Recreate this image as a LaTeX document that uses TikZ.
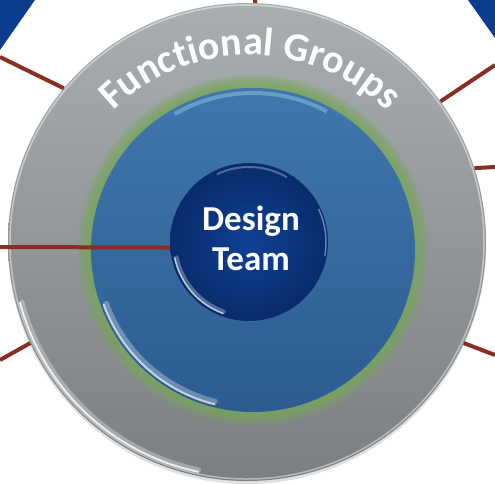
\documentclass[tikz,border=0pt]{standalone}
\usepackage{fontspec}
\setmainfont{Carlito}
\usepackage{tikz}
\usetikzlibrary{decorations.text}
\definecolor{wedgeblue}{HTML}{0C3C8C}
\definecolor{spokered}{HTML}{8B2D22}
\definecolor{graytop}{HTML}{A9AEB0}
\definecolor{graybot}{HTML}{7C7F82}
\definecolor{ringgreen}{HTML}{78A85A}
\definecolor{coretop}{HTML}{4077AD}
\definecolor{corebot}{HTML}{2C5C91}
\definecolor{teamin}{HTML}{0F4194}
\definecolor{teamout}{HTML}{082C6C}

\begin{document}
\begin{tikzpicture}[x=1pt, y=1pt,
  spoke/.style = {draw=spokered, line width=4pt},
  disc/.style = {circle, inner sep=0pt, draw=none},
  shine/.style = {white, line cap=round}]
  \useasboundingbox (0,0) rectangle (495,-483);

  % corner wedges
  \fill[wedgeblue] (0,0) -- (35,0) -- (0,-50) -- cycle;
  \fill[wedgeblue] (468,0) -- (495,0) -- (495,-38) -- cycle;

  % functional groups ring
  \fill[black, opacity=.12] (247,-245) circle (239);
  \node[disc, minimum size=478pt, top color=graytop, bottom color=graybot] (groups) at (247,-242) {};
  \draw[white, opacity=.45, line width=1.5pt] (groups.center) circle (237);
  \draw[shine, opacity=.3, line width=5pt] ([shift={(195:233)}]groups.center) arc (195:258:233);
  \draw[shine, opacity=.8, line width=2pt] ([shift={(195:235)}]groups.center) arc (195:258:235);

  % spokes
  \coordinate (sTop) at (255,0);
  \coordinate (sUL) at (0,-57);
  \coordinate (sUR) at (495,-65);
  \coordinate (sR) at (495,-167);
  \coordinate (sLR) at (495,-355);
  \coordinate (sLL) at (0,-360);
  \coordinate (sL) at (0,-247);
  \draw[spoke] (sTop) -- (groups.88);
  \draw[spoke] (sUL) -- (groups.140);
  \draw[spoke] (sUR) -- (groups.36);
  \draw[spoke] (sR) -- (groups.18);
  \draw[spoke] (sLR) -- (groups.-25);
  \draw[spoke] (sLL) -- (groups.205);

  % green glow and blue core
  \coordinate (corec) at (253,-250);
  \foreach \r in {175,173,...,163}
    \fill[ringgreen, opacity=.22] (corec) circle (\r);
  \node[disc, minimum size=324pt, top color=coretop, bottom color=corebot] (core) at (corec) {};
  \draw[shine, opacity=.3, line width=5pt] ([shift={(200:156)}]corec) arc (200:256:156);
  \draw[shine, opacity=.7, line width=2pt] ([shift={(200:159)}]corec) arc (200:256:159);
  \draw[cyan!30, opacity=.35, line width=4pt] ([shift={(62:157)}]corec) arc (62:120:157);

  \path[decorate, decoration={text along path, text align=center, text color=white,
    text={|\fontsize{40}{40}\bfseries\selectfont|Functional Groups}}]
    ([shift={(140:195)}]250,-250) arc (140:40:195);

  % design team
  \node[disc, minimum size=158pt, inner color=teamin, outer color=teamout] (design) at (249,-242) {};
  \draw[spoke] (sL) -- (design.184);
  \draw[shine, opacity=.3, line width=4pt] ([shift={(192:74)}]design.center) arc (192:250:74);
  \draw[shine, opacity=.7, line width=1.5pt] ([shift={(192:76)}]design.center) arc (192:250:76);
  \draw[shine, opacity=.3, line width=2pt] ([shift={(60:75)}]design.center) arc (60:115:75);
  \draw[shine, opacity=.4, line width=1.5pt] ([shift={(-10:77)}]design.center) arc (-10:25:77);
  \node[align=center, text=white, font=\fontsize{35}{40}\bfseries\selectfont] (teamlabel)
    at (251,-238) {Design\\Team};
\end{tikzpicture}
\end{document}
